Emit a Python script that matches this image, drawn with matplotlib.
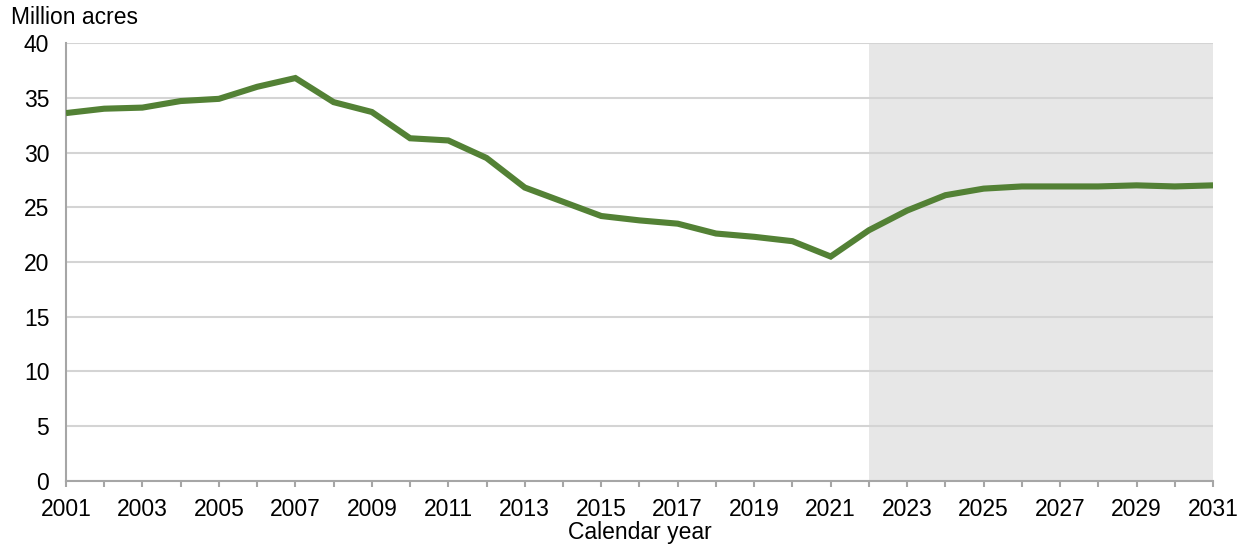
import numpy as np
import matplotlib.pyplot as plt

# Data (million acres)
years = list(range(2001, 2032))
acres = [33.6, 34.0, 34.1, 34.7, 34.9, 36.0, 36.8, 34.6, 33.7, 31.3,
         31.1, 29.5, 26.8, 25.5, 24.2, 23.8, 23.5, 22.6, 22.3, 21.9,
         20.5, 22.9, 24.7, 26.1, 26.7, 26.9, 26.9, 26.9, 27.0, 26.9,
         27.0]
projection_start = 2022
y_ticks = [0, 5, 10, 15, 20, 25, 30, 35, 40]
x_labels = list(range(2001, 2032, 2))

plt.rcParams['font.family'] = ['Liberation Sans', 'DejaVu Sans']

fig = plt.figure(figsize=(12.49, 5.5), dpi=100)
ax = fig.add_axes([0.0528, 0.1255, 0.9184, 0.7963])

# shaded projection period
ax.axvspan(projection_start, years[-1], color='#e7e7e7', zorder=0, lw=0)

ax.plot(years, acres, color='#538135', linewidth=4.4, zorder=3,
        solid_joinstyle='miter', solid_capstyle='butt')

ax.set_xlim(years[0], years[-1])
ax.set_ylim(0, 40)
ax.set_yticks(y_ticks)
ax.set_xticks(x_labels)
ax.set_xticks(years, minor=True)

ax.grid(axis='y', color='#d4d4d4', linewidth=1.5, zorder=1)
ax.set_axisbelow(True)

for side in ['top', 'right']:
    ax.spines[side].set_visible(False)
for side in ['left', 'bottom']:
    ax.spines[side].set_color('#a6a6a6')
    ax.spines[side].set_linewidth(1.5)

ax.tick_params(axis='y', length=0, labelsize=16.5, pad=12)
ax.tick_params(axis='x', which='both', direction='out', length=4,
               color='#a6a6a6', width=1.5, labelsize=16.5, pad=8)
ax.tick_params(axis='x', which='minor', labelbottom=False)

ax.set_xlabel('Calendar year', fontsize=16.5, labelpad=0)
fig.text(0.009, 0.99, 'Million acres', fontsize=16.5, va='top', ha='left')

plt.savefig('out.png', dpi=100)
